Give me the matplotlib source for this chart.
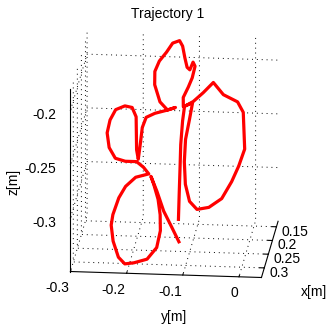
import matplotlib
matplotlib.use('Agg')
import matplotlib.pyplot as plt

plt.rcParams['font.family'] = ['Liberation Sans', 'DejaVu Sans']

# trajectory samples [m]
x = [0.278, 0.262, 0.245, 0.229, 0.213, 0.203,
     0.200, 0.194, 0.187, 0.195, 0.200, 0.206, 0.230, 0.242, 0.252, 0.264,
     0.270, 0.271, 0.266, 0.255, 0.240, 0.225, 0.212, 0.201, 0.204,
     0.198, 0.191, 0.184, 0.177, 0.174, 0.179, 0.178, 0.171, 0.164, 0.160,
     0.162, 0.168, 0.174, 0.181, 0.190, 0.201, 0.206, 0.204,
     0.206, 0.208, 0.212, 0.218, 0.230, 0.240,
     0.233, 0.222, 0.211, 0.205, 0.204, 0.207, 0.214, 0.222, 0.232, 0.239,
     0.241, 0.241, 0.245, 0.249,
     0.251, 0.258, 0.265, 0.276, 0.283, 0.294, 0.305, 0.309, 0.308, 0.305,
     0.297, 0.286, 0.275, 0.266, 0.256, 0.250,
     0.260, 0.273, 0.284, 0.293]
y = [-0.116, -0.117, -0.118, -0.119, -0.118, -0.116,
     -0.101, -0.084, -0.067, -0.048, -0.022, -0.011, -0.005, -0.014, -0.025, -0.041,
     -0.063, -0.084, -0.098, -0.107, -0.111, -0.111, -0.106, -0.102, -0.118,
     -0.119, -0.111, -0.105, -0.101, -0.105, -0.110, -0.115, -0.120, -0.125, -0.131,
     -0.143, -0.153, -0.165, -0.172, -0.171, -0.160, -0.146, -0.132,
     -0.145, -0.168, -0.183, -0.189, -0.191, -0.193,
     -0.197, -0.199, -0.201, -0.209, -0.222, -0.238, -0.247, -0.251, -0.246, -0.234,
     -0.216, -0.196, -0.183, -0.173,
     -0.196, -0.213, -0.224, -0.233, -0.235, -0.230, -0.219, -0.207, -0.191, -0.168,
     -0.152, -0.147, -0.149, -0.154, -0.163, -0.169,
     -0.157, -0.143, -0.127, -0.113]
z = [-0.313, -0.294, -0.275, -0.256, -0.238, -0.227,
     -0.223, -0.216, -0.208, -0.217, -0.222, -0.230, -0.258, -0.271, -0.283, -0.296,
     -0.303, -0.305, -0.299, -0.286, -0.269, -0.252, -0.237, -0.224, -0.227,
     -0.220, -0.212, -0.205, -0.196, -0.193, -0.199, -0.197, -0.190, -0.181, -0.177,
     -0.179, -0.186, -0.193, -0.201, -0.211, -0.224, -0.230, -0.228,
     -0.230, -0.233, -0.236, -0.244, -0.257, -0.268,
     -0.261, -0.248, -0.236, -0.229, -0.228, -0.231, -0.239, -0.249, -0.260, -0.268,
     -0.270, -0.270, -0.274, -0.279,
     -0.282, -0.289, -0.298, -0.311, -0.319, -0.331, -0.343, -0.348, -0.347, -0.344,
     -0.335, -0.322, -0.310, -0.298, -0.287, -0.281,
     -0.292, -0.307, -0.319, -0.330]

x_ticks = [0.15, 0.2, 0.25, 0.3]
y_ticks = [-0.3, -0.2, -0.1, 0]
z_ticks = [-0.3, -0.25, -0.2]
x_labels = ['0.15', '0.2', '0.25', '0.3']
y_labels = ['-0.3', '-0.2', '-0.1', '0']
z_labels = ['-0.3', '-0.25', '-0.2']

fig = plt.figure(figsize=(3.29, 3.25), dpi=100)
ax = fig.add_axes([0.017, 0.035, 1.0, 0.95], projection='3d', proj_type='ortho')

ax.plot(x, y, z, color='red', linewidth=2.3)

ax.set_xlim(0.13, 0.335)
ax.set_ylim(-0.3, 0.04)
ax.set_zlim(-0.35, -0.18)
ax.set_xticks(x_ticks)
ax.set_yticks(y_ticks)
ax.set_zticks(z_ticks)
ax.set_xticklabels(x_labels, ha='left', va='center')
ax.set_yticklabels(y_labels, ha='right', va='center')
ax.set_zticklabels(z_labels, ha='right', va='center_baseline')

ax.view_init(elev=19, azim=5.5)
ax.set_box_aspect((0.93, 1.029, 1.036), zoom=1.015)

for axis in (ax.xaxis, ax.yaxis, ax.zaxis):
    axis.set_pane_color((1, 1, 1, 0))
    axis.pane.set_edgecolor('none')
    axis.line.set_color('black')
    axis.line.set_linewidth(0.8)
    axis._axinfo['grid'].update(color='black', linewidth=0.7,
                                linestyle=(0, (1, 4)))
    axis._axinfo['tick']['inward_factor'] = 0.0
    axis._axinfo['tick']['outward_factor'] = 0.3

ax.tick_params(labelsize=10, pad=0)
ax.tick_params(axis='x', pad=-5)

# axis titles placed on the figure
fig.text(0.511, 0.957, 'Trajectory 1', ha='center', va='center', fontsize=10)
fig.text(0.530, 0.025, 'y[m]', ha='center', va='center', fontsize=10)
fig.text(0.955, 0.102, 'x[m]', ha='center', va='center', fontsize=10)
fig.text(0.040, 0.440, 'z[m]', ha='center', va='center', fontsize=10,
         rotation=90)

fig.savefig('out.png', dpi=100)
